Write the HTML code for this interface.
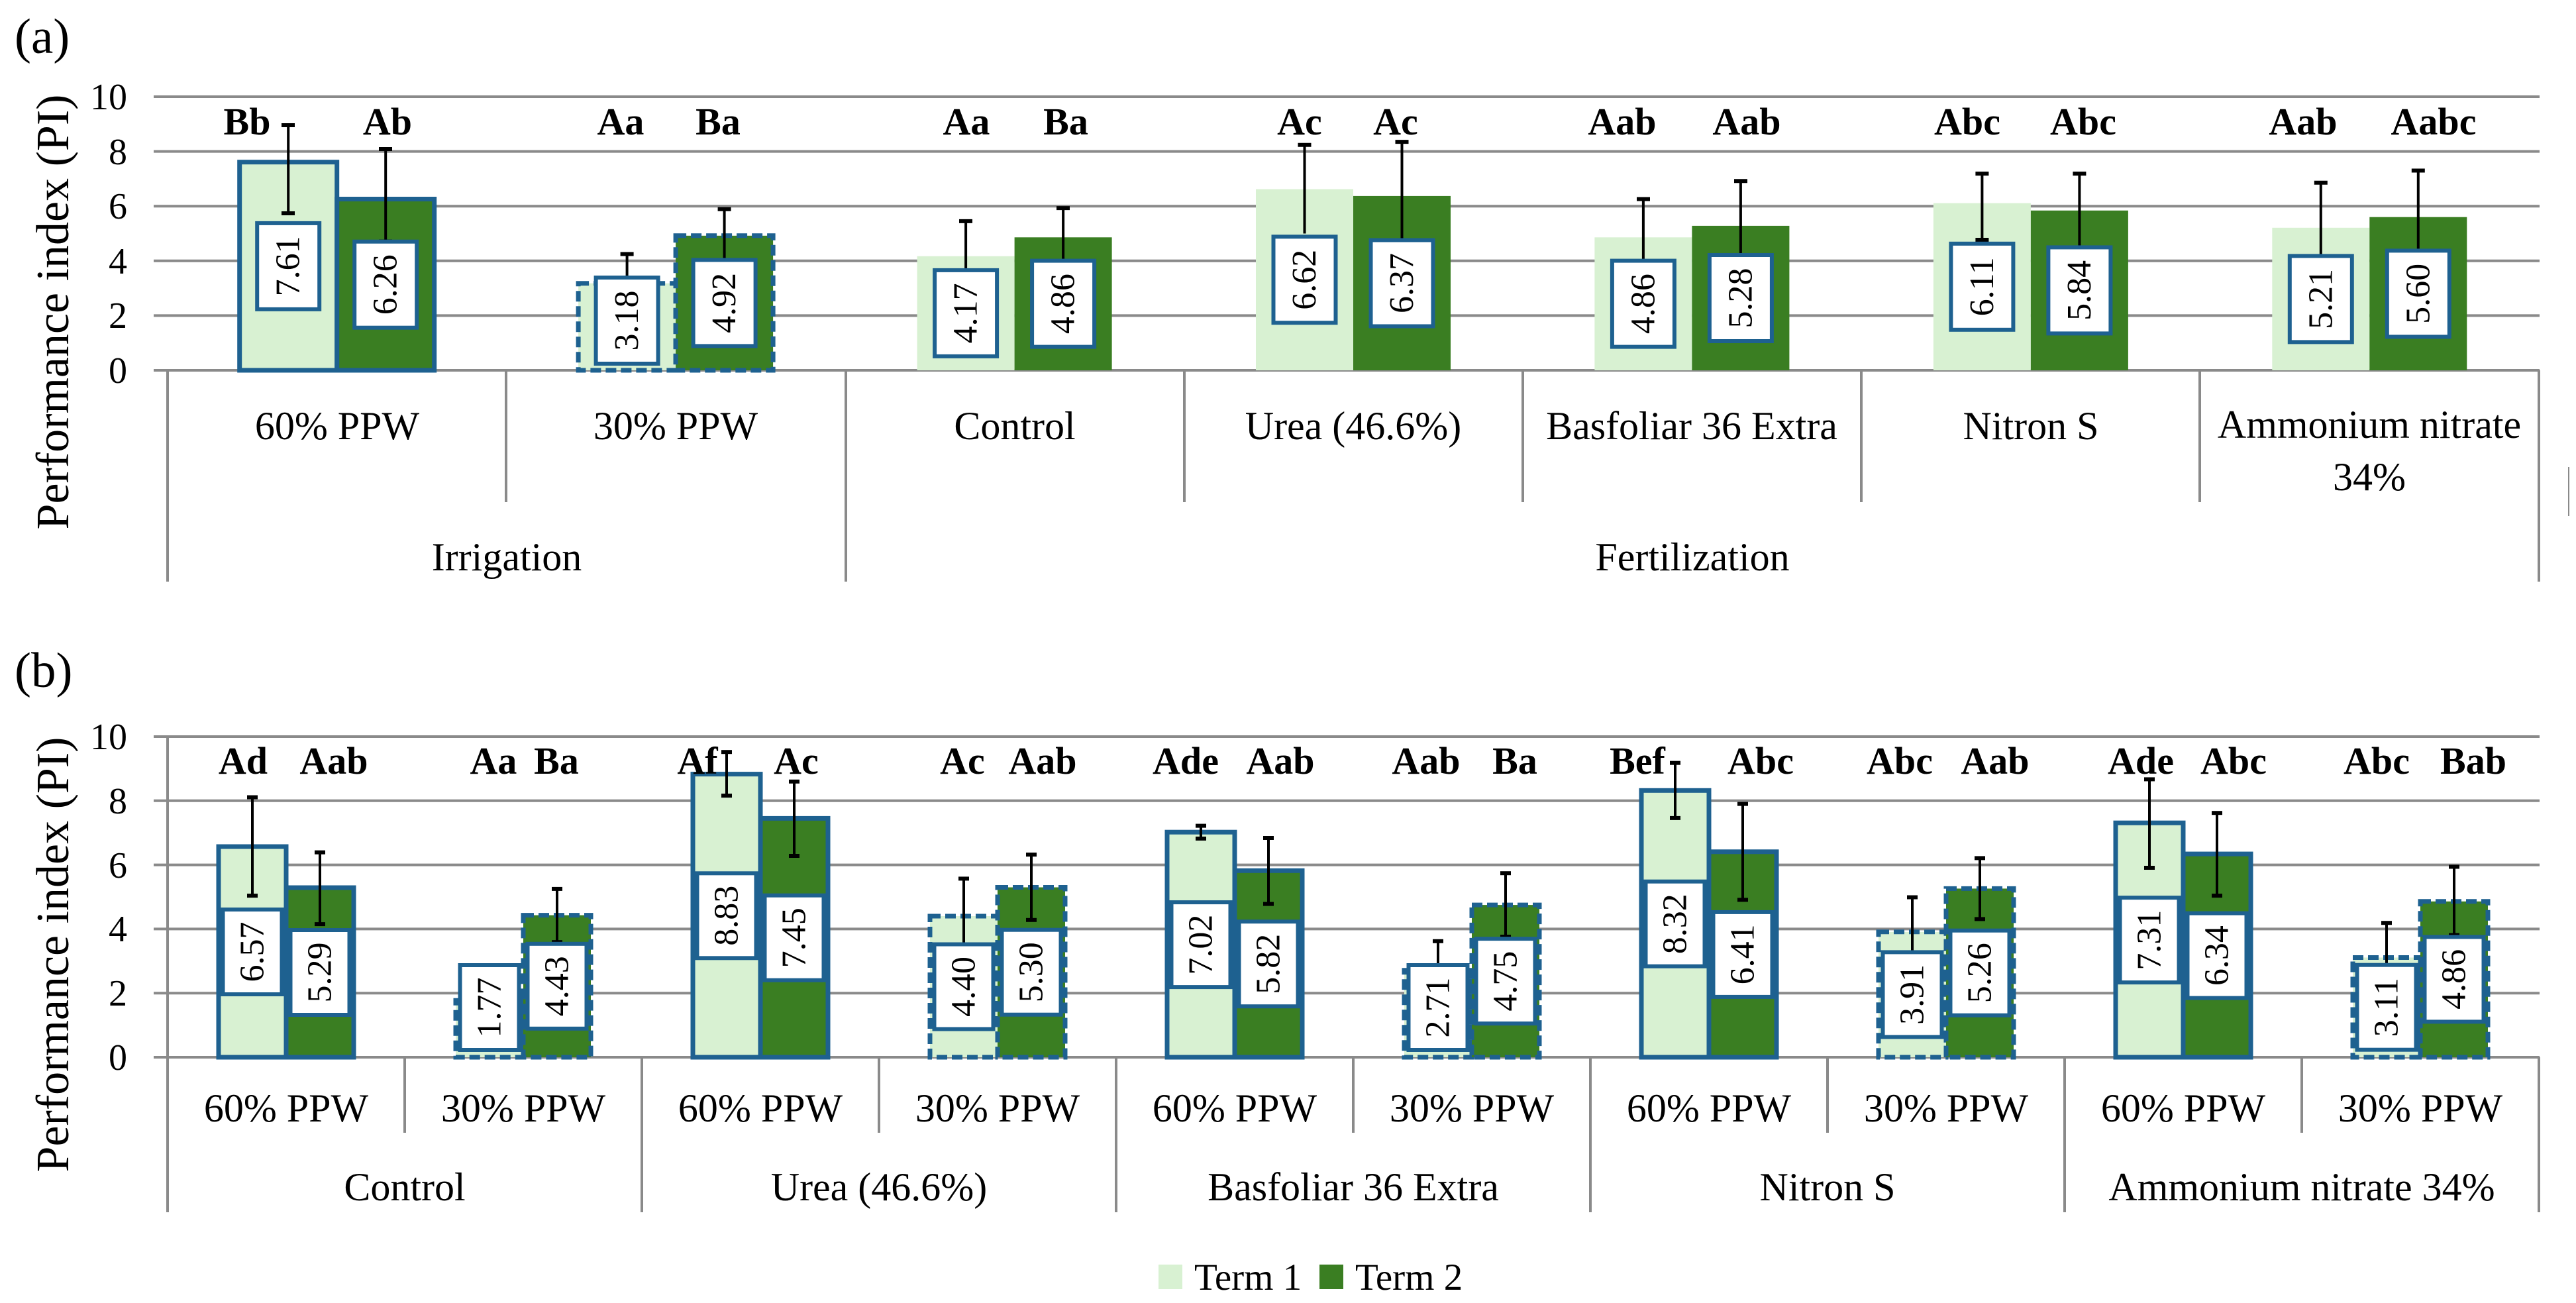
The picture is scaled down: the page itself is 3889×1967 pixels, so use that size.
<!DOCTYPE html>
<html><head><meta charset="utf-8"><style>
html,body{margin:0;padding:0;background:#fff;width:3889px;height:1967px;overflow:hidden}
svg{display:block}
text{font-family:"Liberation Serif",serif;fill:#000}
.b{font-weight:bold;font-size:58px;text-anchor:middle}
.t{font-size:56px;text-anchor:end}
.l{font-size:60px;text-anchor:middle}
.v{font-size:52px;text-anchor:middle;dominant-baseline:central}
.g{stroke:#8a8a8a;stroke-width:4;fill:none}
.e{stroke:#000;stroke-width:4;fill:none}
.c{stroke:#000;stroke-width:6}
.L{fill:#d8f1d2}.D{fill:#3a7e22}
.s{stroke:#1e6190;stroke-width:7}
.d{stroke:#1e6190;stroke-width:7;stroke-dasharray:16 7}
.x{fill:#fff;stroke:#1e6190;stroke-width:6}
</style></head><body>
<svg width="3889" height="1967" viewBox="0 0 3889 1967" xmlns="http://www.w3.org/2000/svg">
<!-- ===== (a) ===== -->
<text x="22" y="80" style="font-size:75px">(a)</text>
<text transform="translate(103,471) rotate(-90)" style="font-size:70px;text-anchor:middle">Performance index (PI)</text>
<g class="g">
<line x1="232" y1="146" x2="3834" y2="146"/><line x1="232" y1="228.6" x2="3834" y2="228.6"/>
<line x1="232" y1="311.2" x2="3834" y2="311.2"/><line x1="232" y1="393.8" x2="3834" y2="393.8"/>
<line x1="232" y1="476.4" x2="3834" y2="476.4"/><line x1="232" y1="559" x2="3834" y2="559"/>
<line x1="764" y1="559" x2="764" y2="758"/><line x1="1788" y1="559" x2="1788" y2="758"/>
<line x1="2299" y1="559" x2="2299" y2="758"/><line x1="2810" y1="559" x2="2810" y2="758"/>
<line x1="3321" y1="559" x2="3321" y2="758"/>
<line x1="253" y1="559" x2="253" y2="878"/><line x1="1277" y1="559" x2="1277" y2="878"/>
<line x1="3833" y1="559" x2="3833" y2="878"/>
</g>
<line x1="3878" y1="705" x2="3878" y2="779" stroke="#8a8a8a" stroke-width="2"/>
<g class="t">
<text x="192" y="165">10</text><text x="192" y="248">8</text><text x="192" y="330">6</text>
<text x="192" y="413">4</text><text x="192" y="495">2</text><text x="192" y="578">0</text>
</g>
<!-- bars a -->
<rect class="L s" x="361.7" y="244.7" width="147" height="314.3"/>
<rect class="D s" x="508.7" y="300.5" width="147" height="258.5"/>
<rect class="L d" x="873.1" y="427.7" width="147" height="131.3"/>
<rect class="D d" x="1020.1" y="355.8" width="147" height="203.2"/>
<rect class="L" x="1384.6" y="386.8" width="147" height="172.2"/>
<rect class="D" x="1531.6" y="358.3" width="147" height="200.7"/>
<rect class="L" x="1896" y="285.6" width="147" height="273.4"/>
<rect class="D" x="2043" y="295.9" width="147" height="263.1"/>
<rect class="L" x="2407.4" y="358.3" width="147" height="200.7"/>
<rect class="D" x="2554.4" y="340.9" width="147" height="218.1"/>
<rect class="L" x="2918.9" y="306.7" width="147" height="252.3"/>
<rect class="D" x="3065.9" y="317.8" width="147" height="241.2"/>
<rect class="L" x="3430.3" y="343.8" width="147" height="215.2"/>
<rect class="D" x="3577.3" y="327.7" width="147" height="231.3"/>
<!-- error a -->
<g class="e">
<line x1="435.2" y1="189" x2="435.2" y2="322"/><line x1="582.2" y1="225" x2="582.2" y2="364.5"/>
<line x1="946.6" y1="383.5" x2="946.6" y2="472"/><line x1="1093.6" y1="315.7" x2="1093.6" y2="395.9"/>
<line x1="1458.1" y1="333.9" x2="1458.1" y2="439.6"/><line x1="1605.1" y1="314.1" x2="1605.1" y2="402.5"/>
<line x1="1969.5" y1="218.7" x2="1969.5" y2="352.5"/><line x1="2116.5" y1="214.1" x2="2116.5" y2="377.7"/>
<line x1="2480.9" y1="300.5" x2="2480.9" y2="416.1"/><line x1="2627.9" y1="273.2" x2="2627.9" y2="408.7"/>
<line x1="2992.4" y1="262.1" x2="2992.4" y2="362"/><line x1="3139.4" y1="262.1" x2="3139.4" y2="373.6"/>
<line x1="3503.8" y1="275.7" x2="3503.8" y2="412"/><line x1="3650.8" y1="257.5" x2="3650.8" y2="398"/>
</g>
<g class="c">
<line x1="425" y1="189" x2="445" y2="189"/><line x1="425" y1="322" x2="445" y2="322"/>
<line x1="572" y1="225" x2="592" y2="225"/><line x1="572" y1="364.5" x2="592" y2="364.5"/>
<line x1="936.6" y1="383.5" x2="956.6" y2="383.5"/><line x1="1083.6" y1="315.7" x2="1103.6" y2="315.7"/>
<line x1="1448" y1="333.9" x2="1468" y2="333.9"/><line x1="1595" y1="314.1" x2="1615" y2="314.1"/>
<line x1="1959.5" y1="218.7" x2="1979.5" y2="218.7"/><line x1="2106.5" y1="214.1" x2="2126.5" y2="214.1"/>
<line x1="2471" y1="300.5" x2="2491" y2="300.5"/><line x1="2618" y1="273.2" x2="2638" y2="273.2"/>
<line x1="2982.4" y1="262.1" x2="3002.4" y2="262.1"/><line x1="2982.4" y1="362" x2="3002.4" y2="362"/>
<line x1="3129.4" y1="262.1" x2="3149.4" y2="262.1"/>
<line x1="3493.8" y1="275.7" x2="3513.8" y2="275.7"/><line x1="3640.8" y1="257.5" x2="3660.8" y2="257.5"/>
</g>
<!-- boxes a -->
<g class="x">
<rect x="388.2" y="336.9" width="94" height="130"/><rect x="535.2" y="364.7" width="94" height="130"/>
<rect x="899.6" y="419" width="94" height="130"/><rect x="1046.6" y="392.4" width="94" height="130"/>
<rect x="1411.1" y="407.9" width="94" height="130"/><rect x="1558.1" y="393.6" width="94" height="130"/>
<rect x="1922.5" y="357.3" width="94" height="130"/><rect x="2069.5" y="362.5" width="94" height="130"/>
<rect x="2433.9" y="393.6" width="94" height="130"/><rect x="2580.9" y="385" width="94" height="130"/>
<rect x="2945.4" y="367.8" width="94" height="130"/><rect x="3092.4" y="373.4" width="94" height="130"/>
<rect x="3456.8" y="386.4" width="94" height="130"/><rect x="3603.8" y="378.4" width="94" height="130"/>
</g>
<g class="v">
<text transform="translate(435.2,401.9) rotate(-90)">7.61</text>
<text transform="translate(582.2,429.7) rotate(-90)">6.26</text>
<text transform="translate(946.6,484) rotate(-90)">3.18</text>
<text transform="translate(1093.6,457.4) rotate(-90)">4.92</text>
<text transform="translate(1458.1,472.9) rotate(-90)">4.17</text>
<text transform="translate(1605.1,458.6) rotate(-90)">4.86</text>
<text transform="translate(1969.5,422.3) rotate(-90)">6.62</text>
<text transform="translate(2116.5,427.5) rotate(-90)">6.37</text>
<text transform="translate(2480.9,458.6) rotate(-90)">4.86</text>
<text transform="translate(2627.9,450) rotate(-90)">5.28</text>
<text transform="translate(2992.4,432.8) rotate(-90)">6.11</text>
<text transform="translate(3139.4,438.4) rotate(-90)">5.84</text>
<text transform="translate(3503.8,451.4) rotate(-90)">5.21</text>
<text transform="translate(3650.8,443.4) rotate(-90)">5.60</text>
</g>
<g class="b">
<text x="373" y="203">Bb</text><text x="585" y="203">Ab</text>
<text x="937" y="203">Aa</text><text x="1084" y="203">Ba</text>
<text x="1459" y="203">Aa</text><text x="1609" y="203">Ba</text>
<text x="1962" y="203">Ac</text><text x="2107" y="203">Ac</text>
<text x="2449" y="203">Aab</text><text x="2637" y="203">Aab</text>
<text x="2970" y="203">Abc</text><text x="3145" y="203">Abc</text>
<text x="3477" y="203">Aab</text><text x="3674" y="203">Aabc</text>
</g>
<g class="l">
<text x="509" y="663">60% PPW</text><text x="1020" y="663">30% PPW</text>
<text x="1532" y="663">Control</text><text x="2043" y="663">Urea (46.6%)</text>
<text x="2554" y="663">Basfoliar 36 Extra</text><text x="3066" y="663">Nitron S</text>
<text x="3577" y="661">Ammonium nitrate</text><text x="3577" y="740">34%</text>
<text x="765" y="861">Irrigation</text><text x="2555" y="861">Fertilization</text>
</g>

<!-- ===== (b) ===== -->
<text x="22" y="1037" style="font-size:75px">(b)</text>
<text transform="translate(103,1441) rotate(-90)" style="font-size:70px;text-anchor:middle">Performance index (PI)</text>
<g class="g">
<line x1="232" y1="1112" x2="3834" y2="1112"/><line x1="232" y1="1208.8" x2="3834" y2="1208.8"/>
<line x1="232" y1="1305.6" x2="3834" y2="1305.6"/><line x1="232" y1="1402.4" x2="3834" y2="1402.4"/>
<line x1="232" y1="1499.2" x2="3834" y2="1499.2"/><line x1="232" y1="1596" x2="3834" y2="1596"/>
<line x1="253" y1="1112" x2="253" y2="1830"/>
<line x1="969" y1="1596" x2="969" y2="1830"/><line x1="1685" y1="1596" x2="1685" y2="1830"/>
<line x1="2401" y1="1596" x2="2401" y2="1830"/><line x1="3117" y1="1596" x2="3117" y2="1830"/>
<line x1="3833" y1="1596" x2="3833" y2="1830"/>
<line x1="611" y1="1596" x2="611" y2="1710"/><line x1="1327" y1="1596" x2="1327" y2="1710"/>
<line x1="2043" y1="1596" x2="2043" y2="1710"/><line x1="2759" y1="1596" x2="2759" y2="1710"/>
<line x1="3475" y1="1596" x2="3475" y2="1710"/>
</g>
<g class="t">
<text x="192" y="1131">10</text><text x="192" y="1228">8</text><text x="192" y="1325">6</text>
<text x="192" y="1421">4</text><text x="192" y="1518">2</text><text x="192" y="1615">0</text>
</g>
<!-- bars b -->
<rect class="L s" x="330" y="1278" width="102" height="318"/>
<rect class="D s" x="432" y="1340" width="102" height="256"/>
<rect class="L d" x="688" y="1510.3" width="102" height="85.7"/>
<rect class="D d" x="790" y="1381.6" width="102" height="214.4"/>
<rect class="L s" x="1046" y="1168.6" width="102" height="427.4"/>
<rect class="D s" x="1148" y="1235.4" width="102" height="360.6"/>
<rect class="L d" x="1404" y="1383" width="102" height="213"/>
<rect class="D d" x="1506" y="1339.5" width="102" height="256.5"/>
<rect class="L s" x="1762" y="1256.2" width="102" height="339.8"/>
<rect class="D s" x="1864" y="1314.3" width="102" height="281.7"/>
<rect class="L d" x="2120" y="1464.8" width="102" height="131.2"/>
<rect class="D d" x="2222" y="1366.1" width="102" height="229.9"/>
<rect class="L s" x="2478" y="1193.3" width="102" height="402.7"/>
<rect class="D s" x="2580" y="1285.8" width="102" height="310.2"/>
<rect class="L d" x="2836" y="1406.8" width="102" height="189.2"/>
<rect class="D d" x="2938" y="1341.4" width="102" height="254.6"/>
<rect class="L s" x="3194" y="1242.2" width="102" height="353.8"/>
<rect class="D s" x="3296" y="1289.1" width="102" height="306.9"/>
<rect class="L d" x="3552" y="1445.5" width="102" height="150.5"/>
<rect class="D d" x="3654" y="1360.8" width="102" height="235.2"/>
<!-- error b -->
<g class="e">
<line x1="381" y1="1203.5" x2="381" y2="1352.1"/><line x1="483" y1="1286.7" x2="483" y2="1395.1"/>
<line x1="841" y1="1341.9" x2="841" y2="1422.2"/>
<line x1="1097" y1="1135.2" x2="1097" y2="1201.1"/><line x1="1199" y1="1179.8" x2="1199" y2="1292"/>
<line x1="1455" y1="1326.4" x2="1455" y2="1441.1"/><line x1="1557" y1="1290.1" x2="1557" y2="1388.8"/>
<line x1="1813" y1="1246.6" x2="1813" y2="1265.9"/><line x1="1915" y1="1265" x2="1915" y2="1364.6"/>
<line x1="2171" y1="1420.8" x2="2171" y2="1508.9"/><line x1="2273" y1="1318.2" x2="2273" y2="1414"/>
<line x1="2529" y1="1151.7" x2="2529" y2="1234.9"/><line x1="2631" y1="1213.6" x2="2631" y2="1358.4"/>
<line x1="2887" y1="1354.5" x2="2887" y2="1460.5"/><line x1="2989" y1="1295.4" x2="2989" y2="1387.4"/>
<line x1="3245" y1="1176.4" x2="3245" y2="1310"/><line x1="3347" y1="1227.2" x2="3347" y2="1352.1"/>
<line x1="3603" y1="1393.2" x2="3603" y2="1499.2"/><line x1="3705" y1="1308.5" x2="3705" y2="1411.6"/>
</g>
<g class="c">
<line x1="373" y1="1203.5" x2="389" y2="1203.5"/><line x1="373" y1="1352.1" x2="389" y2="1352.1"/>
<line x1="475" y1="1286.7" x2="491" y2="1286.7"/><line x1="475" y1="1395.1" x2="491" y2="1395.1"/>
<line x1="833" y1="1341.9" x2="849" y2="1341.9"/><line x1="833" y1="1422.2" x2="849" y2="1422.2"/>
<line x1="1089" y1="1135.2" x2="1105" y2="1135.2"/><line x1="1089" y1="1201.1" x2="1105" y2="1201.1"/>
<line x1="1191" y1="1179.8" x2="1207" y2="1179.8"/><line x1="1191" y1="1292" x2="1207" y2="1292"/>
<line x1="1447" y1="1326.4" x2="1463" y2="1326.4"/>
<line x1="1549" y1="1290.1" x2="1565" y2="1290.1"/><line x1="1549" y1="1388.8" x2="1565" y2="1388.8"/>
<line x1="1805" y1="1246.6" x2="1821" y2="1246.6"/><line x1="1805" y1="1265.9" x2="1821" y2="1265.9"/>
<line x1="1907" y1="1265" x2="1923" y2="1265"/><line x1="1907" y1="1364.6" x2="1923" y2="1364.6"/>
<line x1="2163" y1="1420.8" x2="2179" y2="1420.8"/>
<line x1="2265" y1="1318.2" x2="2281" y2="1318.2"/><line x1="2265" y1="1414" x2="2281" y2="1414"/>
<line x1="2521" y1="1151.7" x2="2537" y2="1151.7"/><line x1="2521" y1="1234.9" x2="2537" y2="1234.9"/>
<line x1="2623" y1="1213.6" x2="2639" y2="1213.6"/><line x1="2623" y1="1358.4" x2="2639" y2="1358.4"/>
<line x1="2879" y1="1354.5" x2="2895" y2="1354.5"/>
<line x1="2981" y1="1295.4" x2="2997" y2="1295.4"/><line x1="2981" y1="1387.4" x2="2997" y2="1387.4"/>
<line x1="3237" y1="1176.4" x2="3253" y2="1176.4"/><line x1="3237" y1="1310" x2="3253" y2="1310"/>
<line x1="3339" y1="1227.2" x2="3355" y2="1227.2"/><line x1="3339" y1="1352.1" x2="3355" y2="1352.1"/>
<line x1="3595" y1="1393.2" x2="3611" y2="1393.2"/>
<line x1="3697" y1="1308.5" x2="3713" y2="1308.5"/><line x1="3697" y1="1411.6" x2="3713" y2="1411.6"/>
</g>
<!-- boxes b -->
<g class="x">
<rect x="336.5" y="1373" width="89" height="128"/><rect x="438.5" y="1404" width="89" height="128"/>
<rect x="694.5" y="1457" width="89" height="128"/><rect x="796.5" y="1424.8" width="89" height="128"/>
<rect x="1052.5" y="1318.3" width="89" height="128"/><rect x="1154.5" y="1351.7" width="89" height="128"/>
<rect x="1410.5" y="1425.5" width="89" height="128"/><rect x="1512.5" y="1403.7" width="89" height="128"/>
<rect x="1768.5" y="1362.1" width="89" height="128"/><rect x="1870.5" y="1391.2" width="89" height="128"/>
<rect x="2126.5" y="1457" width="89" height="128"/><rect x="2228.5" y="1417.1" width="89" height="128"/>
<rect x="2484.5" y="1330.7" width="89" height="128"/><rect x="2586.5" y="1376.9" width="89" height="128"/>
<rect x="2842.5" y="1437.4" width="89" height="128"/><rect x="2944.5" y="1404.7" width="89" height="128"/>
<rect x="3200.5" y="1355.1" width="89" height="128"/><rect x="3302.5" y="1378.6" width="89" height="128"/>
<rect x="3558.5" y="1456.7" width="89" height="128"/><rect x="3660.5" y="1414.4" width="89" height="128"/>
</g>
<g class="v">
<text transform="translate(381,1437) rotate(-90)">6.57</text>
<text transform="translate(483,1468) rotate(-90)">5.29</text>
<text transform="translate(739,1521) rotate(-90)">1.77</text>
<text transform="translate(841,1488.8) rotate(-90)">4.43</text>
<text transform="translate(1097,1382.3) rotate(-90)">8.83</text>
<text transform="translate(1199,1415.7) rotate(-90)">7.45</text>
<text transform="translate(1455,1489.5) rotate(-90)">4.40</text>
<text transform="translate(1557,1467.7) rotate(-90)">5.30</text>
<text transform="translate(1813,1426.1) rotate(-90)">7.02</text>
<text transform="translate(1915,1455.2) rotate(-90)">5.82</text>
<text transform="translate(2171,1521) rotate(-90)">2.71</text>
<text transform="translate(2273,1481.1) rotate(-90)">4.75</text>
<text transform="translate(2529,1394.7) rotate(-90)">8.32</text>
<text transform="translate(2631,1440.9) rotate(-90)">6.41</text>
<text transform="translate(2887,1501.4) rotate(-90)">3.91</text>
<text transform="translate(2989,1468.7) rotate(-90)">5.26</text>
<text transform="translate(3245,1419.1) rotate(-90)">7.31</text>
<text transform="translate(3347,1442.6) rotate(-90)">6.34</text>
<text transform="translate(3603,1520.7) rotate(-90)">3.11</text>
<text transform="translate(3705,1478.4) rotate(-90)">4.86</text>
</g>
<g class="b">
<text x="367" y="1168">Ad</text><text x="504" y="1168">Aab</text>
<text x="745" y="1168">Aa</text><text x="840" y="1168">Ba</text>
<text x="1053" y="1168">Af</text><text x="1202" y="1168">Ac</text>
<text x="1453" y="1168">Ac</text><text x="1574" y="1168">Aab</text>
<text x="1790" y="1168">Ade</text><text x="1933" y="1168">Aab</text>
<text x="2153" y="1168">Aab</text><text x="2287" y="1168">Ba</text>
<text x="2472" y="1168">Bef</text><text x="2658" y="1168">Abc</text>
<text x="2868" y="1168">Abc</text><text x="3012" y="1168">Aab</text>
<text x="3232" y="1168">Ade</text><text x="3372" y="1168">Abc</text>
<text x="3588" y="1168">Abc</text><text x="3734" y="1168">Bab</text>
</g>
<g class="l">
<text x="432" y="1693">60% PPW</text><text x="790" y="1693">30% PPW</text>
<text x="1148" y="1693">60% PPW</text><text x="1506" y="1693">30% PPW</text>
<text x="1864" y="1693">60% PPW</text><text x="2222" y="1693">30% PPW</text>
<text x="2580" y="1693">60% PPW</text><text x="2938" y="1693">30% PPW</text>
<text x="3296" y="1693">60% PPW</text><text x="3654" y="1693">30% PPW</text>
<text x="611" y="1812">Control</text><text x="1327" y="1812">Urea (46.6%)</text>
<text x="2043" y="1812">Basfoliar 36 Extra</text><text x="2759" y="1812">Nitron S</text>
<text x="3475" y="1812">Ammonium nitrate 34%</text>
</g>
<!-- legend -->
<rect class="L" x="1749" y="1909" width="36" height="37"/>
<text x="1803" y="1947" style="font-size:57px">Term 1</text>
<rect class="D" x="1992" y="1909" width="36" height="37"/>
<text x="2046" y="1947" style="font-size:57px">Term 2</text>
</svg>
</body></html>
